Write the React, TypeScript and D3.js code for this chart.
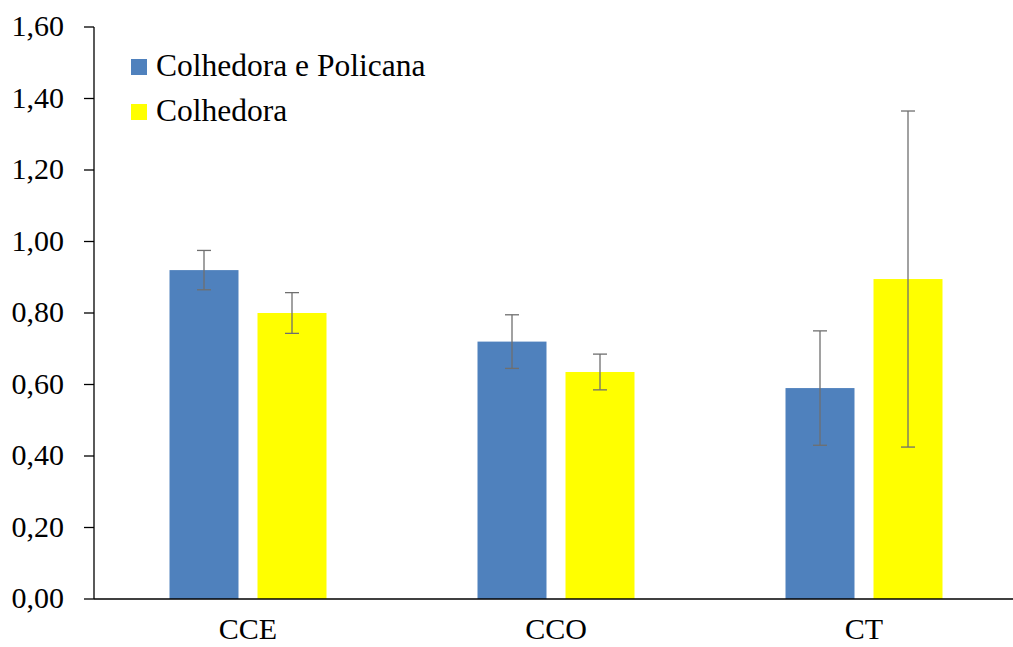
import React, { useEffect, useRef } from 'react';
import * as d3 from 'd3';

// Data
const categories = ['CCE', 'CCO', 'CT'];
const seriesNames = ['Colhedora e Policana', 'Colhedora'];
const seriesColors = ['#4F81BD', '#FFFF00'];
const meansColhedoraPolicana = [0.92, 0.72, 0.59];
const meansColhedora = [0.8, 0.635, 0.895];
const errColhedoraPolicana = [0.055, 0.075, 0.16];
const errColhedora = [0.057, 0.05, 0.47];
const yTicks = [0, 0.2, 0.4, 0.6, 0.8, 1.0, 1.2, 1.4, 1.6];

const App: React.FC = () => {
  const svgRef = useRef<SVGSVGElement>(null);

  useEffect(() => {
    if (!svgRef.current) return;
    const width = 1013;
    const height = 647;
    const svg = d3.select(svgRef.current);
    svg.selectAll('*').remove();
    svg.attr('width', width).attr('height', height);

    const left = 94;
    const right = 1018;
    const top = 27;
    const bottom = 599;
    const font = '"Liberation Serif", "Times New Roman", serif';

    const x = d3.scaleBand().domain(categories).range([left, right]);
    const xs = d3
      .scaleBand()
      .domain(seriesNames)
      .range([0, x.bandwidth()])
      .paddingInner(0.216)
      .paddingOuter(0.858);
    const y = d3.scaleLinear().domain([0, 1.6]).range([bottom, top]);
    const fmt = (v: number) => d3.format('.2f')(v).replace('.', ',');

    const series = [
      { name: seriesNames[0], color: seriesColors[0], means: meansColhedoraPolicana, errs: errColhedoraPolicana },
      { name: seriesNames[1], color: seriesColors[1], means: meansColhedora, errs: errColhedora },
    ];

    // bars
    series.forEach((s) => {
      svg
        .append('g')
        .selectAll('rect')
        .data(categories)
        .enter()
        .append('rect')
        .attr('x', (c) => (x(c) as number) + (xs(s.name) as number))
        .attr('width', xs.bandwidth())
        .attr('y', (c, i) => y(s.means[i]))
        .attr('height', (c, i) => bottom - y(s.means[i]))
        .style('fill', s.color);
    });

    // error bars
    series.forEach((s) => {
      const g = svg.append('g');
      categories.forEach((c, i) => {
        const cx = (x(c) as number) + (xs(s.name) as number) + xs.bandwidth() / 2;
        const hi = y(s.means[i] + s.errs[i]);
        const lo = y(s.means[i] - s.errs[i]);
        g.append('line').attr('x1', cx).attr('x2', cx).attr('y1', hi).attr('y2', lo)
          .style('stroke', '#6f6f6f').style('stroke-width', 1.3);
        [hi, lo].forEach((yy) => {
          g.append('line').attr('x1', cx - 7).attr('x2', cx + 7).attr('y1', yy).attr('y2', yy)
            .style('stroke', '#6f6f6f').style('stroke-width', 1.3);
        });
      });
    });

    // y axis
    const yAxis = svg.append('g');
    yAxis.append('line').attr('x1', left).attr('x2', left).attr('y1', top).attr('y2', bottom)
      .style('stroke', '#000').style('stroke-width', 1.3);
    yTicks.forEach((t) => {
      yAxis.append('line').attr('x1', left - 10).attr('x2', left).attr('y1', y(t)).attr('y2', y(t))
        .style('stroke', '#000').style('stroke-width', 1.3);
      yAxis.append('text')
        .attr('x', 64)
        .attr('y', y(t))
        .attr('dy', '0.3em')
        .attr('text-anchor', 'end')
        .style('font-family', font)
        .style('font-size', '30px')
        .style('fill', '#000')
        .text(fmt(t));
    });

    // x axis
    svg.append('line').attr('x1', left).attr('x2', width).attr('y1', bottom).attr('y2', bottom)
      .style('stroke', '#000').style('stroke-width', 1.5);
    svg.append('g')
      .selectAll('text')
      .data(categories)
      .enter()
      .append('text')
      .attr('x', (c) => (x(c) as number) + x.bandwidth() / 2)
      .attr('y', 639)
      .attr('text-anchor', 'middle')
      .style('font-family', font)
      .style('font-size', '30px')
      .style('fill', '#000')
      .text((c) => c);

    // legend
    const legend = svg.append('g');
    series.forEach((s, i) => {
      const base = 76 + i * 45;
      legend.append('rect').attr('x', 131).attr('y', base - 17).attr('width', 16).attr('height', 16)
        .style('fill', s.color);
      legend.append('text')
        .attr('x', 156)
        .attr('y', base)
        .style('font-family', font)
        .style('font-size', '31.5px')
        .style('fill', '#000')
        .text(s.name);
    });
  }, []);

  return (
    <div style={{ position: 'absolute', left: 0, top: 0, width: 1013, height: 647, background: '#fff' }}>
      <svg ref={svgRef} style={{ display: 'block' }} />
    </div>
  );
};

export default App;
